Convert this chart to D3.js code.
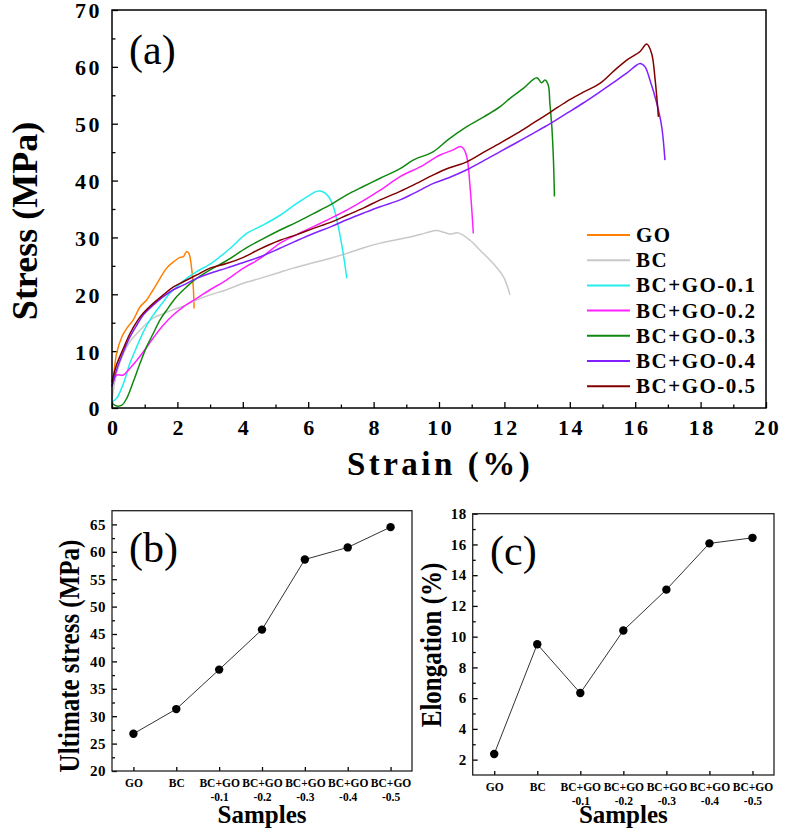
<!DOCTYPE html>
<html><head><meta charset="utf-8">
<script src="https://cdn.jsdelivr.net/npm/d3@7"></script>
<style>
html,body{margin:0;padding:0;background:#fff;}
svg{display:block;}
svg text{font-family:"Liberation Serif","Times New Roman",serif !important;}
</style></head>
<body>
<svg id="chart" width="787" height="833"></svg>
<script>
// ---------- DATA ----------
const seriesNames = ["GO","BC","BC+GO-0.1","BC+GO-0.2","BC+GO-0.3","BC+GO-0.4","BC+GO-0.5"];
const seriesColors = ["#FF8000","#C8C8C8","#22EEEE","#FF22FF","#108810","#8020FF","#800000"];

const curveGO = [[0,4.0],[0.02,4.3],[0.14,9.6],[0.3,12.5],[0.45,14.0],[0.65,15.5],[0.86,17.8],[1.06,19.0],[1.26,20.8],[1.47,22.8],[1.67,24.6],[1.88,25.7],[2.08,26.5],[2.18,26.6],[2.28,27.5],[2.35,27.2],[2.44,24.3],[2.49,20.8],[2.51,17.5]];
const curveBC = [[0,1.4],[0.14,6.1],[0.35,9.6],[0.55,11.7],[0.76,13.1],[0.96,14.3],[1.26,15.8],[1.57,16.6],[1.88,17.3],[2.18,17.9],[2.59,19.0],[3.0,19.9],[3.5,20.8],[4.0,21.9],[4.53,22.8],[5.04,23.7],[5.54,24.6],[6.06,25.4],[6.6,26.2],[7.18,27.2],[7.7,28.2],[8.2,29.0],[8.7,29.6],[9.21,30.2],[9.6,30.8],[9.93,31.2],[10.15,30.9],[10.34,30.6],[10.59,30.8],[10.95,29.5],[11.25,27.8],[11.66,25.4],[11.97,23.1],[12.17,19.9]];
const curveGO01 = [[0,1.1],[0.14,1.7],[0.35,4.3],[0.55,7.9],[0.76,10.8],[0.96,13.4],[1.16,15.5],[1.37,17.2],[1.57,18.7],[1.77,20.2],[1.98,21.3],[2.28,22.8],[2.59,24.0],[3.0,25.3],[3.6,28.0],[4.12,30.7],[4.63,32.2],[5.14,33.9],[5.65,36.0],[6.06,37.5],[6.26,38.1],[6.46,38.0],[6.62,37.2],[6.77,35.4],[6.92,31.9],[7.07,27.2],[7.18,22.8]];
const curveGO02 = [[0,3.75],[0.14,5.8],[0.35,5.8],[0.55,7.0],[0.76,8.4],[0.96,9.9],[1.26,12.3],[1.57,14.6],[1.88,16.4],[2.18,17.8],[2.59,19.3],[3.0,20.8],[3.5,22.5],[4.02,24.6],[4.53,26.3],[5.14,29.0],[5.65,30.5],[6.16,31.9],[6.7,33.4],[7.18,34.8],[7.7,36.5],[8.2,38.3],[8.81,40.7],[9.42,42.4],[10.03,44.5],[10.44,45.4],[10.64,46.0],[10.74,45.7],[10.85,44.2],[10.95,38.9],[11.05,30.7]];
const curveGO03 = [[0,0.8],[0.14,0.35],[0.3,0.5],[0.45,1.7],[0.65,4.6],[0.86,7.9],[1.06,10.8],[1.26,13.1],[1.47,15.5],[1.67,17.2],[1.98,19.6],[2.28,21.3],[2.59,22.8],[3.0,24.3],[3.5,25.9],[4.12,28.2],[4.6,29.7],[5.14,31.3],[5.65,32.7],[6.16,34.2],[6.7,35.8],[7.18,37.5],[7.7,39.0],[8.2,40.4],[8.81,42.1],[9.21,43.6],[9.83,45.1],[10.3,47.3],[10.85,49.5],[11.37,51.2],[11.87,53.0],[12.2,54.6],[12.58,56.2],[12.99,58.1],[13.14,57.2],[13.24,57.7],[13.34,56.8],[13.39,53.6],[13.45,49.5],[13.5,43.6],[13.53,37.2]];
const curveGO04 = [[0,3.75],[0.14,6.7],[0.35,9.9],[0.55,12.5],[0.76,14.6],[0.96,16.4],[1.26,18.1],[1.57,19.6],[1.88,20.8],[2.18,21.6],[2.59,22.8],[3.0,23.7],[3.5,24.6],[4.02,25.6],[4.53,26.6],[5.1,28.0],[5.6,29.3],[6.16,30.7],[6.7,31.9],[7.18,33.1],[7.7,34.3],[8.2,35.4],[8.81,36.6],[9.21,37.7],[9.83,39.5],[10.3,40.5],[10.85,41.9],[11.37,43.5],[11.87,45.1],[12.38,46.7],[12.88,48.3],[13.4,50.0],[13.9,51.8],[14.4,53.6],[14.92,55.6],[15.35,57.3],[15.74,58.9],[16.15,60.6],[16.3,60.0],[16.45,57.7],[16.66,53.6],[16.81,49.5],[16.91,43.6]];
const curveGO05 = [[0,4.6],[0.14,7.6],[0.35,10.5],[0.55,13.1],[0.76,15.2],[0.96,16.7],[1.26,18.4],[1.57,19.9],[1.88,21.3],[2.18,22.2],[2.59,23.4],[3.0,24.6],[3.5,25.4],[4.02,26.5],[4.5,27.9],[5.14,29.5],[5.65,30.5],[6.16,31.6],[6.7,32.7],[7.18,33.9],[7.7,35.2],[8.2,36.6],[8.81,38.1],[9.21,39.2],[9.83,41.0],[10.3,42.2],[10.85,43.3],[11.37,45.0],[11.87,46.6],[12.38,48.3],[12.88,50.1],[13.4,52.0],[13.9,53.9],[14.4,55.5],[14.92,57.1],[15.35,59.3],[15.74,61.2],[16.15,62.7],[16.35,64.0],[16.5,62.4],[16.61,57.7],[16.71,51.2]];
const curves = [curveGO, curveBC, curveGO01, curveGO02, curveGO03, curveGO04, curveGO05];

const sampleCats = ["GO","BC","BC+GO-0.1","BC+GO-0.2","BC+GO-0.3","BC+GO-0.4","BC+GO-0.5"];
const sampleLabelLine1 = ["GO","BC","BC+GO","BC+GO","BC+GO","BC+GO","BC+GO"];
const sampleLabelLine2 = ["","","-0.1","-0.2","-0.3","-0.4","-0.5"];
const ultimateStress = [26.8, 31.3, 38.5, 45.8, 58.6, 60.8, 64.5];
const elongation = [2.37, 9.51, 6.33, 10.4, 13.06, 16.07, 16.43];

const strainTicks = [0,2,4,6,8,10,12,14,16,18,20];
const stressTicks = [0,10,20,30,40,50,60,70];
const ultTicks = [20,25,30,35,40,45,50,55,60,65];
const elongTicks = [2,4,6,8,10,12,14,16,18];

// ---------- DRAW ----------
const FONT = "Liberation Serif";
const svg = d3.select("#chart").attr("font-family", FONT);
const BOLD = "bold";

function styleAxis(g, fs, ls){
  g.attr("font-family", FONT);
  g.select(".domain").remove();
  g.selectAll(".tick line").attr("stroke","#000").attr("stroke-width",1.3);
  g.selectAll(".tick text").attr("fill","#000").attr("font-size",fs)
    .attr("font-weight",BOLD).attr("font-family",FONT)
    .attr("letter-spacing", ls);
}

// ===== Panel (a) =====
const xA = d3.scaleLinear().domain([0,20]).range([112,766]);
const yA = d3.scaleLinear().domain([0,70]).range([408,10]);

const gA = svg.append("g");
gA.append("g").attr("transform","translate(0,408)")
  .call(d3.axisBottom(xA).tickValues(d3.range(1,20,2)).tickSize(-3.5).tickFormat(""))
  .call(g=>styleAxis(g,0,0));
gA.append("g").attr("transform","translate(112,0)")
  .call(d3.axisLeft(yA).tickValues(d3.range(5,70,10)).tickSize(-3.5).tickFormat(""))
  .call(g=>styleAxis(g,0,0));
const axXA = gA.append("g").attr("transform","translate(0,408)")
  .call(d3.axisBottom(xA).tickValues(strainTicks).tickSize(-6).tickPadding(11).tickFormat(d3.format("d")))
  .call(g=>styleAxis(g,22,"2.5px"));
axXA.selectAll(".tick text").attr("dx","1.25px");
gA.append("g").attr("transform","translate(112,0)")
  .call(d3.axisLeft(yA).tickValues(stressTicks).tickSize(-6).tickPadding(10).tickFormat(d3.format("d")))
  .call(g=>styleAxis(g,22,"2.5px"))
  .call(g=>g.selectAll(".tick text").attr("dy","0.36em"));

const lineA = d3.line().x(d=>xA(d[0])).y(d=>yA(d[1])).curve(d3.curveCatmullRom.alpha(0.5));
gA.append("g").selectAll("path").data(curves).join("path")
  .attr("d", lineA).attr("fill","none")
  .attr("stroke",(d,i)=>seriesColors[i]).attr("stroke-width",1.5)
  .attr("stroke-linejoin","round");

gA.append("rect").attr("x",xA(0)).attr("y",yA(70)).attr("width",xA(20)-xA(0)).attr("height",yA(0)-yA(70))
  .attr("fill","none").attr("stroke","#000").attr("stroke-width",1.5);

const leg = gA.append("g");
seriesNames.forEach((n,i)=>{
  const cy = 235 + i*25.2;
  leg.append("line").attr("x1",587).attr("x2",630).attr("y1",cy).attr("y2",cy)
    .attr("stroke",seriesColors[i]).attr("stroke-width",2);
  leg.append("text").attr("x",636).attr("y",cy+7).text(n).attr("font-family",FONT)
    .attr("font-size",21).attr("font-weight",BOLD).attr("letter-spacing","1.5px");
});

gA.append("text").attr("transform","translate(37,221) rotate(-90)").attr("text-anchor","middle")
  .attr("font-family",FONT).attr("font-size",36).attr("font-weight",BOLD).text("Stress (MPa)");
gA.append("text").attr("x",440).attr("y",475).attr("text-anchor","middle").attr("font-family",FONT)
  .attr("font-size",33).attr("font-weight",BOLD).attr("letter-spacing","3.5px").text("Strain (%)");
gA.append("text").attr("x",129).attr("y",64).attr("font-family",FONT).attr("font-size",42).text("(a)");

// ===== small panels =====
function smallPanel(opt){
  const x = d3.scalePoint().domain(sampleCats).range([opt.x0,opt.x1]).padding(0.5);
  const y = d3.scaleLinear().domain(opt.ydom).range([opt.y1,opt.y0]);
  const g = svg.append("g").attr("font-family",FONT);
  g.append("g").attr("transform",`translate(${opt.x0},0)`)
    .call(d3.axisLeft(y).tickValues(opt.minor).tickSize(-3).tickFormat(""))
    .call(a=>styleAxis(a,0,0));
  g.append("g").attr("transform",`translate(${opt.x0},0)`)
    .call(d3.axisLeft(y).tickValues(opt.ticks).tickSize(-5).tickPadding(6).tickFormat(d3.format("d")))
    .call(a=>styleAxis(a,15,"0.5px"));
  const ax = g.append("g").attr("transform",`translate(0,${opt.y1})`)
    .call(d3.axisBottom(x).tickSize(-4).tickPadding(10).tickFormat(""))
    .call(a=>styleAxis(a,0,0));
  ax.selectAll(".tick").each(function(d,i){
    const t = d3.select(this);
    t.append("text").attr("y",16).attr("text-anchor","middle").attr("font-size",11.5).attr("font-family",FONT)
      .attr("font-weight",BOLD).attr("fill","#000").text(sampleLabelLine1[i]);
    if (sampleLabelLine2[i]) t.append("text").attr("y",30).attr("text-anchor","middle").attr("font-size",11.5)
      .attr("font-family",FONT).attr("font-weight",BOLD).attr("fill","#000").text(sampleLabelLine2[i]);
  });
  const line = d3.line().x((d,i)=>x(sampleCats[i])).y(d=>y(d));
  g.append("path").datum(opt.values).attr("d",line).attr("fill","none")
    .attr("stroke","#333").attr("stroke-width",1);
  g.selectAll("circle.pt").data(opt.values).join("circle").attr("class","pt")
    .attr("cx",(d,i)=>x(sampleCats[i])).attr("cy",d=>y(d)).attr("r",4.2).attr("fill","#000");
  g.append("rect").attr("x",opt.x0).attr("y",opt.y0).attr("width",opt.x1-opt.x0).attr("height",opt.y1-opt.y0)
    .attr("fill","none").attr("stroke","#222").attr("stroke-width",1.3);
  g.append("text").attr("transform",`translate(${opt.ytx},${opt.yty}) rotate(-90) scale(1,1.15)`).attr("text-anchor","middle")
    .attr("font-family",FONT).attr("font-size",25).attr("font-weight",BOLD).text(opt.ytitle);
  g.append("text").attr("x",(opt.x0+opt.x1)/2).attr("y",823).attr("text-anchor","middle").attr("font-family",FONT)
    .attr("font-size",25).attr("font-weight",BOLD).text("Samples");
  g.append("text").attr("x",opt.lx).attr("y",opt.ly).attr("font-family",FONT).attr("font-size",42).text(opt.label);
}

smallPanel({x0:112,x1:412,y0:510.7,y1:771,ydom:[20,67.5],ticks:ultTicks,minor:d3.range(22.5,67.5,5),
  values:ultimateStress,ytitle:"Ultimate stress (MPa)",ytx:79,yty:656,label:"(b)",lx:129,ly:562});
smallPanel({x0:472.7,x1:774,y0:513.7,y1:775,ydom:[1,18],ticks:elongTicks,minor:d3.range(3,18,2),
  values:elongation,ytitle:"Elongation (%)",ytx:441,yty:645,label:"(c)",lx:490,ly:565});
</script>
</body></html>
